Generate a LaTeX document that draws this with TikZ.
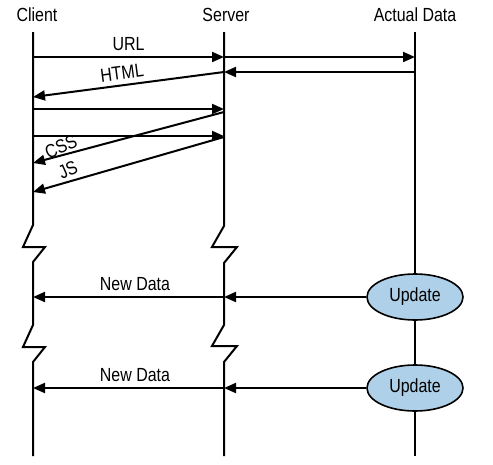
\documentclass[tikz,border=0pt]{standalone}
\usepackage{fontspec}
\setmainfont{Liberation Sans}[FakeStretch=0.84]
\usetikzlibrary{arrows.meta,shapes.geometric}
\definecolor{updblue}{RGB}{174,208,232}
\begin{document}
\begin{tikzpicture}[
        x=1pt, y=-1pt,
        lbl/.style={font=\fontsize{19}{21}\selectfont, inner sep=0pt},
        life/.style={line width=2pt},
        msg/.style={-{Triangle[length=12pt,width=10pt]}, line width=2pt},
        upd/.style={ellipse, draw, line width=1.6pt, fill=updblue, minimum width=96pt, minimum height=46pt, inner sep=0pt, font=\fontsize{19}{21}\selectfont}
    ]
        \useasboundingbox (0,0) rectangle (493,464);

        % Lifelines
        \node[lbl, anchor=base] (client) at (37,21) {Client};
        \node[lbl, anchor=base] (server) at (226,21) {Server};
        \node[lbl, anchor=base] (data) at (415,21) {Actual Data};
        \coordinate (cl) at (33,32);
        \coordinate (sv) at (224,32);
        \coordinate (ad) at (415,32);

        \draw[life] (cl) -- ++(0,193) -- ++(-10,22) -- ++(22,0) -- ++(-12,15)
            -- ++(0,63) -- ++(-10,22) -- ++(22,0) -- ++(-12,15) -- (cl |- 0,456);
        \draw[life] (sv) -- ++(0,194) -- ++(-12,21) -- ++(25,0) -- ++(-13,16)
            -- ++(0,62) -- ++(-12,21) -- ++(25,0) -- ++(-13,16) -- (sv |- 0,456);
        \draw[life] (ad) -- (ad |- 0,456);

        % Page load
        \draw[msg] (cl |- 0,57) -- node[lbl, above=5pt] (url) {URL} (sv |- 0,57);
        \draw[msg] (sv |- 0,57) -- (ad |- 0,57);
        \draw[msg] (ad |- 0,72) -- (sv |- 0,72);
        \draw[msg] (sv |- 0,72) -- (cl |- 0,97);
        \node[lbl, rotate=7.5] (html) at (122,73) {HTML};
        \draw[msg] (cl |- 0,109) -- (sv |- 0,109);
        \draw[msg] (cl |- 0,136) -- (sv |- 0,136);
        \draw[msg] (sv |- 0,112) -- (cl |- 0,163);
        \draw[msg] (sv |- 0,137) -- (cl |- 0,192);
        \node[lbl, rotate=24] (css) at (61,147) {CSS};
        \node[lbl, rotate=24] (js) at (68,170) {JS};

        % Pushed updates
        \node[upd] (upd1) at (415,297) {Update};
        \node[upd] (upd2) at (415,388) {Update};
        \draw[msg] (upd1) -- (sv |- upd1);
        \draw[msg] (sv |- upd1) -- (cl |- upd1);
        \draw[msg] (upd2) -- (sv |- upd2);
        \draw[msg] (sv |- upd2) -- (cl |- upd2);
        \node[lbl, anchor=base] (new1) at (135,290) {New Data};
        \node[lbl, anchor=base] (new2) at (135,381) {New Data};
    \end{tikzpicture}
\end{document}
